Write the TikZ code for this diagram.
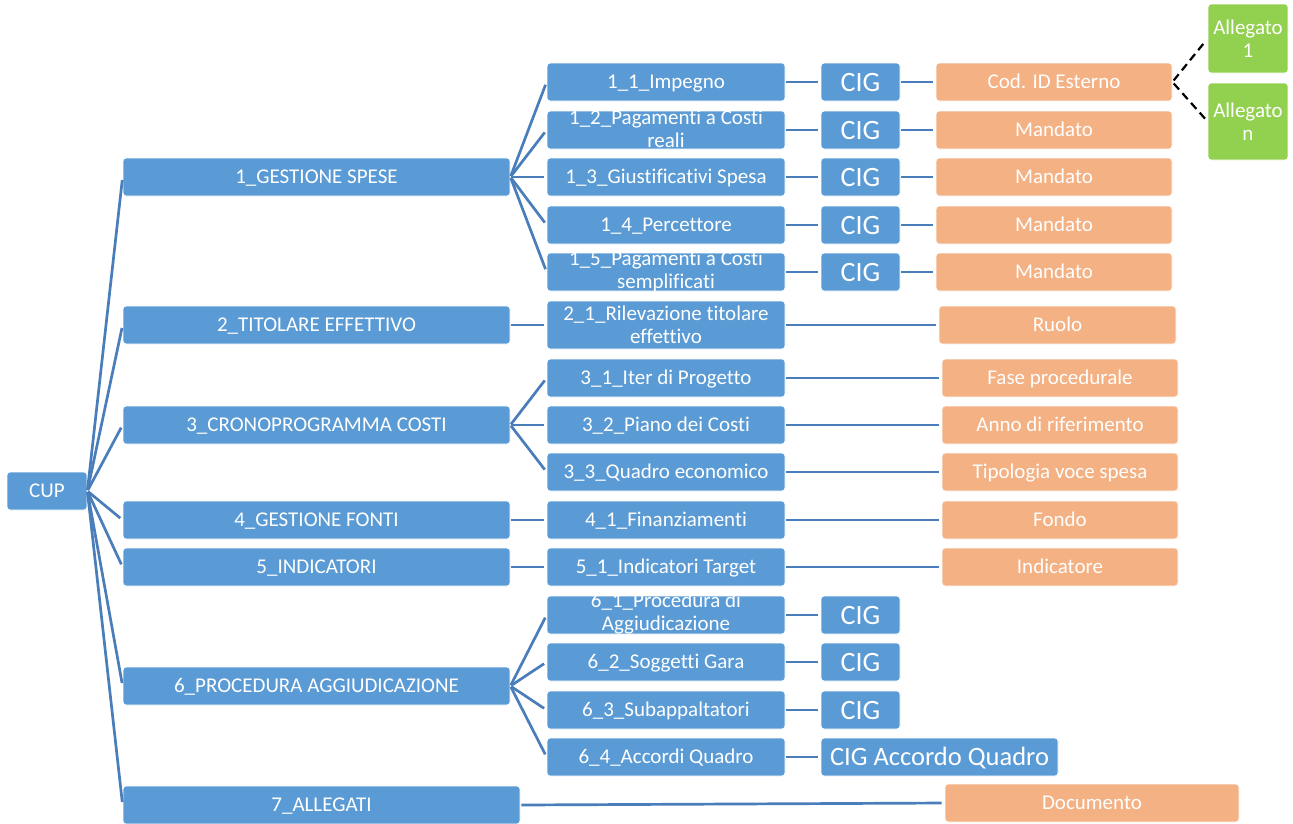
\documentclass[tikz,border=0pt]{standalone}
\usepackage{fontspec}
\setmainfont[Ligatures=NoCommon]{Carlito}
\definecolor{myblue}{HTML}{5B9BD5}
\definecolor{myorange}{HTML}{F4B183}
\definecolor{mygreen}{HTML}{92D050}
\definecolor{lineblue}{HTML}{4A7EBB}
\begin{document}
\begin{tikzpicture}[x=1pt,y=-1pt,
  sz/.style 2 args={minimum width=#1, minimum height=#2},
  bx/.style={rectangle, rounded corners=3pt, draw=white, line width=0.8pt, text=white, inner sep=0pt, font=\fontsize{21}{23}\selectfont, align=center, text height=15pt, text depth=1.5pt},
  ml/.style={text height={}, text depth={}},
  bl/.style={bx, fill=myblue},
  orbox/.style={bx, fill=myorange},
  grbox/.style={bx, fill=mygreen, ml},
  cig/.style={bl, font=\fontsize{28}{30}\selectfont, text height=19pt, text depth=1pt},
  txt/.style={text=white, inner sep=0pt, font=\fontsize{21}{23}\selectfont, align=center},
  ln/.style={draw=lineblue, line width=2.7pt, shorten <=1pt, shorten >=3pt},
  dl/.style={draw=black, line width=2.2pt, dash pattern=on 8pt off 5pt, shorten <=2pt, shorten >=3pt}
]
\useasboundingbox (0,0) rectangle (1293,823);

% root
\node[bl, sz={80}{38}] (cup) at (47,491) {CUP};

% level 1
\node[bl, sz={387}{38}] (g1) at (316.5,177) {1\_GESTIONE SPESE};
\node[bl, sz={387}{38}] (g2) at (316.5,325) {2\_TITOLARE EFFETTIVO};
\node[bl, sz={387}{38}] (g3) at (316.5,425) {3\_CRONOPROGRAMMA COSTI};
\node[bl, sz={387}{38}] (g4) at (316.5,520) {4\_GESTIONE FONTI};
\node[bl, sz={387}{38}] (g5) at (316.5,567) {5\_INDICATORI};
\node[bl, sz={387}{38}] (g6) at (316.5,686) {6\_PROCEDURA AGGIUDICAZIONE};
\node[bl, sz={397}{38}] (g7) at (321.5,805) {7\_ALLEGATI};

% level 2
\node[bl, sz={238}{38}] (a11) at (666,82) {1\_1\_Impegno};
\node[bl, sz={238}{38}] (a12) at (666,130) {};
\node[txt] (t12) at (666,129) {1\_2\_Pagamenti a Costi\\reali};
\node[bl, sz={238}{38}] (a13) at (666,177) {1\_3\_Giustificativi Spesa};
\node[bl, sz={238}{38}] (a14) at (666,225) {1\_4\_Percettore};
\node[bl, sz={238}{38}] (a15) at (666,272) {};
\node[txt] (t15) at (666,271) {1\_5\_Pagamenti a Costi\\semplificati};
\node[bl, ml, sz={238}{48}] (a21) at (666,325) {2\_1\_Rilevazione titolare\\effettivo};
\node[bl, sz={238}{38}] (a31) at (666,378) {3\_1\_Iter di Progetto};
\node[bl, sz={238}{38}] (a32) at (666,425) {3\_2\_Piano dei Costi};
\node[bl, sz={238}{38}] (a33) at (666,472) {3\_3\_Quadro economico};
\node[bl, sz={238}{38}] (a41) at (666,520) {4\_1\_Finanziamenti};
\node[bl, sz={238}{38}] (a51) at (666,567) {5\_1\_Indicatori Target};
\node[bl, sz={238}{38}] (a61) at (666,615) {};
\node[txt] (t61) at (666,614) {6\_1\_Procedura di\\Aggiudicazione};
\node[bl, sz={238}{38}] (a62) at (666,662) {6\_2\_Soggetti Gara};
\node[bl, sz={238}{38}] (a63) at (666,710) {6\_3\_Subappaltatori};
\node[bl, sz={238}{38}] (a64) at (666,757) {6\_4\_Accordi Quadro};

% CIG
\node[cig, sz={79}{38}] (c11) at (860.5,82) {CIG};
\node[cig, sz={79}{38}] (c12) at (860.5,130) {CIG};
\node[cig, sz={79}{38}] (c13) at (860.5,177) {CIG};
\node[cig, sz={79}{38}] (c14) at (860.5,225) {CIG};
\node[cig, sz={79}{38}] (c15) at (860.5,272) {CIG};
\node[cig, sz={79}{38}] (c61) at (860.5,615) {CIG};
\node[cig, sz={79}{38}] (c62) at (860.5,662) {CIG};
\node[cig, sz={79}{38}] (c63) at (860.5,710) {CIG};
\node[bl, sz={237}{38}, font=\fontsize{26.5}{28}\selectfont, text height=18pt, text depth=1pt] (c64) at (939.5,757) {CIG Accordo Quadro};

% orange
\node[orbox, sz={236}{38}] (o11) at (1054,82) {Cod. ID Esterno};
\node[orbox, sz={236}{38}] (o12) at (1054,130) {Mandato};
\node[orbox, sz={236}{38}] (o13) at (1054,177) {Mandato};
\node[orbox, sz={236}{38}] (o14) at (1054,225) {Mandato};
\node[orbox, sz={236}{38}] (o15) at (1054,272) {Mandato};
\node[orbox, sz={237}{38}] (o21) at (1057.5,325) {Ruolo};
\node[orbox, sz={236}{38}] (o31) at (1060,378) {Fase procedurale};
\node[orbox, sz={236}{38}] (o32) at (1060,425) {Anno di riferimento};
\node[orbox, sz={236}{38}] (o33) at (1060,472) {Tipologia voce spesa};
\node[orbox, sz={236}{38}] (o41) at (1060,520) {Fondo};
\node[orbox, sz={236}{38}] (o51) at (1060,567) {Indicatore};
\node[orbox, sz={294}{38}] (o71) at (1092,803) {Documento};

% green
\node[grbox, sz={80}{69}] (al1) at (1248,38.5) {Allegato\\1};
\node[grbox, sz={80}{77}] (aln) at (1248,121.5) {Allegato\\n};

% connectors
\foreach \g in {g1,g2,g3,g4,g5,g6,g7} \draw[ln] (cup.east) -- (\g.west);
\foreach \a in {a11,a12,a13,a14,a15} \draw[ln] (g1.east) -- (\a.west);
\draw[ln] (g2.east) -- (a21.west);
\foreach \a in {a31,a32,a33} \draw[ln] (g3.east) -- (\a.west);
\draw[ln] (g4.east) -- (a41.west);
\draw[ln] (g5.east) -- (a51.west);
\foreach \a in {a61,a62,a63,a64} \draw[ln] (g6.east) -- (\a.west);
\foreach \i in {11,12,13,14,15} {
  \draw[ln] (a\i.east) -- (c\i.west);
  \draw[ln] (c\i.east) -- (o\i.west);
}
\draw[ln] (a21.east) -- (o21.west);
\foreach \i in {31,32,33,41,51} \draw[ln] (a\i.east) -- (o\i.west);
\foreach \i in {61,62,63,64} \draw[ln] (a\i.east) -- (c\i.west);
\draw[ln] (g7.east) -- (o71.west);
\draw[dl] (o11.east) -- (al1.west);
\draw[dl] (o11.east) -- (aln.west);
\end{tikzpicture}
\end{document}
